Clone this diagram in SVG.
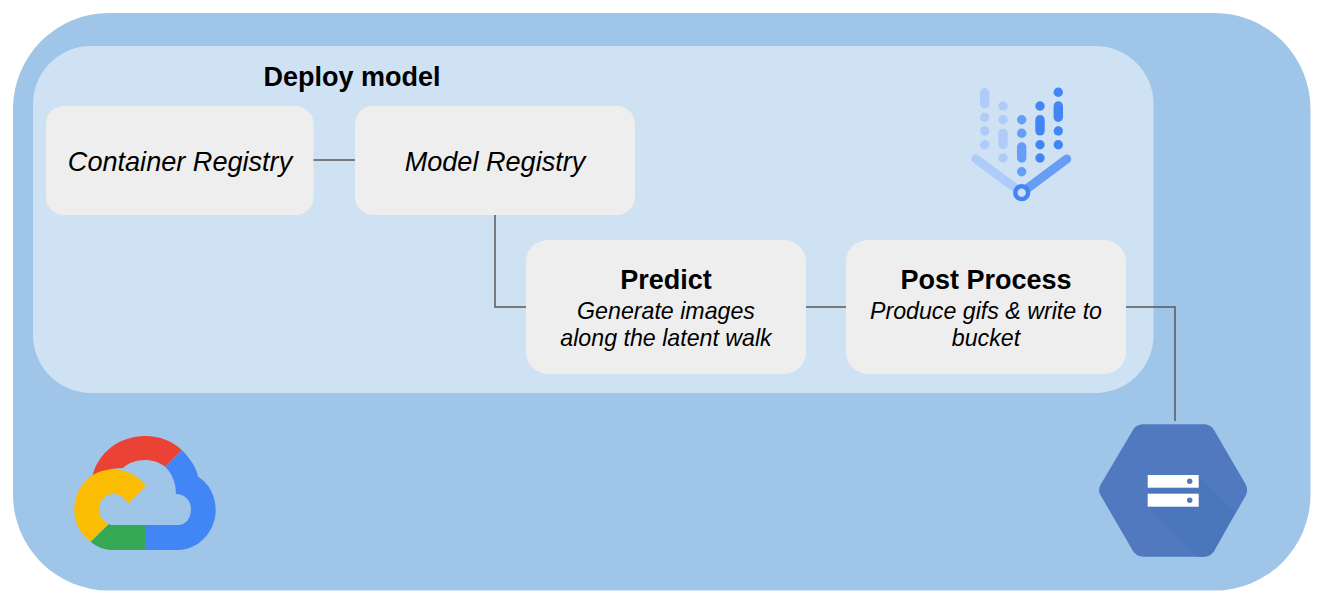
<svg xmlns="http://www.w3.org/2000/svg" width="1322" height="602" viewBox="0 0 1322 602">
<style>
text{font-family:"Liberation Sans",Arial,sans-serif;fill:#000;text-anchor:middle}
.node{fill:#eeeeee}
.i{font-style:italic;font-size:27.1px}
.s{font-style:italic;font-size:23.2px}
.b{font-weight:bold;font-size:27px}
.c{fill:none;stroke:#595959;stroke-width:1.5}
.l{fill:#aecbfa}.m{fill:#669df6}.d{fill:#4285f4}
</style>
<rect width="1322" height="602" fill="#fff"/>
<g id="background">
<rect x="13" y="13" width="1297.5" height="577.5" rx="96" fill="#9fc5e8"/>
<rect x="33" y="46" width="1120.5" height="347" rx="58" fill="#cfe2f3"/>
<text x="352" y="86" class="b">Deploy model</text>
</g>
<g id="connectors">
<path class="c" d="M313 160H355"/>
<path class="c" d="M495 215V307H526"/>
<path class="c" d="M806 307H846"/>
<path class="c" d="M1126 307H1175V421"/>
</g>
<g id="container-registry">
<rect class="node" x="46" y="106" width="267.5" height="109" rx="18"/>
<text x="180" y="171" class="i">Container Registry</text>
</g>
<g id="model-registry">
<rect class="node" x="355" y="106" width="280" height="109" rx="18"/>
<text x="495" y="171" class="i">Model Registry</text>
</g>
<g id="predict">
<rect class="node" x="526" y="240" width="280" height="134" rx="22"/>
<text x="666" y="289" class="b">Predict</text>
<text x="666" y="319" class="s">Generate images</text>
<text x="666" y="346" class="s">along the latent walk</text>
</g>
<g id="post-process">
<rect class="node" x="846" y="240" width="280" height="134" rx="22"/>
<text x="986" y="289" class="b">Post Process</text>
<text x="986" y="319" class="s">Produce gifs &amp; write to</text>
<text x="986" y="346" class="s">bucket</text>
</g>
<g id="vertex-ai">
<path d="M976 159L1021.7 192.7" fill="none" stroke="#aecbfa" stroke-width="9" stroke-linecap="round"/>
<path d="M1066.7 159L1021.7 192.7" fill="none" stroke="#669df6" stroke-width="9" stroke-linecap="round"/>
<rect class="l" x="980" y="88" width="9.4" height="20.4" rx="4.7"/>
<circle class="l" cx="984.7" cy="117.3" r="4.7"/><circle class="l" cx="984.7" cy="131" r="4.7"/><circle class="l" cx="984.7" cy="144.7" r="4.7"/>
<circle class="l" cx="1003" cy="106" r="4.7"/><circle class="l" cx="1003" cy="119.7" r="4.7"/>
<rect class="l" x="998.3" y="128.7" width="9.4" height="20.4" rx="4.7"/>
<circle class="l" cx="1003" cy="158" r="4.7"/>
<circle class="m" cx="1021.7" cy="119.7" r="4.7"/><circle class="m" cx="1021.7" cy="133.3" r="4.7"/>
<rect class="m" x="1017" y="142.3" width="9.4" height="20.4" rx="4.7"/>
<circle class="m" cx="1021.7" cy="171.7" r="4.7"/>
<circle class="d" cx="1040" cy="106" r="4.7"/>
<rect class="d" x="1035.3" y="115" width="9.4" height="20.6" rx="4.7"/>
<circle class="d" cx="1040" cy="144.7" r="4.7"/><circle class="d" cx="1040" cy="158" r="4.7"/>
<circle class="d" cx="1058.3" cy="92.3" r="4.7"/>
<rect class="d" x="1053.6" y="101.3" width="9.4" height="20.6" rx="4.7"/>
<circle class="d" cx="1058.3" cy="131" r="4.7"/><circle class="d" cx="1058.3" cy="144.7" r="4.7"/>
<circle cx="1021.7" cy="192.7" r="6.4" fill="#cfe2f3" stroke="#4285f4" stroke-width="4.5"/>
</g>
<g id="google-cloud">
<path fill="#ea4335" d="M92.3 476.7C98 452 120 436 145 436C160 436 172 441 181.7 450L165 466.7C159 462 152 460 145 460C136 460 128 463 123 468C112 468 101 471 92.3 476.7Z"/>
<path fill="#4285f4" d="M181.7 450C190 458 196 467 198 476.7C209 483 215.7 496 215.7 510C215.7 532 198 550 178 550H145V525H178C186 525 191 518 191 509C191 501 185 494 176 494C176 483 172 473 165 466.7Z"/>
<path fill="#fbbc04" d="M113 469.5C126 469.5 137 475 146 485.7L128.3 503.3C124 497 119 494 113 494C105 494 99 501 99 510C99 516 103 521 109 524L90.7 541.7C80 534 74.3 522 74.3 510C74.3 487 91 469.5 113 469.5Z"/>
<path fill="#34a853" d="M90.7 541.7L109 524C110 525 112 525 113 525H145V550H113C105 550 97 547 90.7 541.7Z"/>
</g>
<g id="cloud-storage">
<path fill="#5079c0" d="M1143 424.3H1204C1208 424.3 1212 426.5 1214 430L1245.5 484C1247.7 488 1247.7 492 1245.5 496L1214 551C1212 554.5 1208 556.7 1204 556.7H1143C1139 556.7 1135 554.5 1133 551L1101 496C1098.5 492 1098.5 488 1101 484L1133 430C1135 426.5 1139 424.3 1143 424.3Z"/>
<path fill="#4a76bb" d="M1198.7 475L1235 512L1214 551C1212 554.5 1208 556.7 1204 556.7H1197L1148 506.7V490L1152 487.7L1148 483Z"/>
<rect x="1147.7" y="475" width="51" height="12.7" fill="#fff"/>
<rect x="1147.7" y="493.7" width="51" height="13" fill="#fff"/>
<circle cx="1189.7" cy="481.3" r="2.7" fill="#5079c0"/>
<circle cx="1189.7" cy="500.3" r="2.7" fill="#5079c0"/>
</g>
</svg>
